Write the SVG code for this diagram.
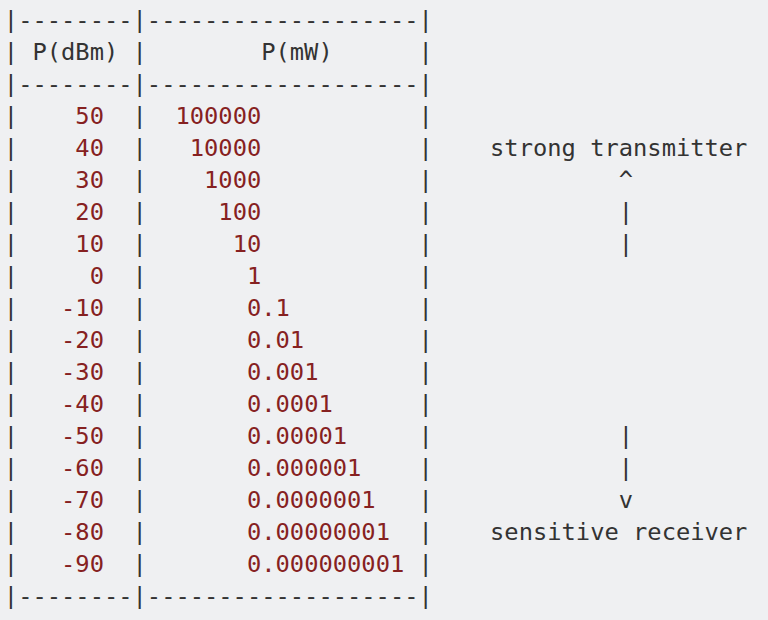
<svg xmlns="http://www.w3.org/2000/svg" width="768" height="620" viewBox="0 0 768 620" xml:space="preserve">
<style>
.t{font-family:"DejaVu Sans Mono","Liberation Mono",monospace;font-size:23.75px;fill:#333333;white-space:pre}
.n{fill:#862121}
</style>
<rect x="0" y="0" width="768" height="620" fill="#eff0f2"/>
<g id="table">
<text class="t" x="3.85" y="28">|--------|-------------------|</text>
<text class="t" x="3.85" y="60">| P(dBm) |        P(mW)      |</text>
<text class="t" x="3.85" y="92">|--------|-------------------|</text>
<text class="t" x="3.85" y="124">|    <tspan class="n">50</tspan>  |  <tspan class="n">100000</tspan>           |</text>
<text class="t" x="3.85" y="156">|    <tspan class="n">40</tspan>  |   <tspan class="n">10000</tspan>           |</text>
<text class="t" x="3.85" y="188">|    <tspan class="n">30</tspan>  |    <tspan class="n">1000</tspan>           |</text>
<text class="t" x="3.85" y="220">|    <tspan class="n">20</tspan>  |     <tspan class="n">100</tspan>           |</text>
<text class="t" x="3.85" y="252">|    <tspan class="n">10</tspan>  |      <tspan class="n">10</tspan>           |</text>
<text class="t" x="3.85" y="284">|     <tspan class="n">0</tspan>  |       <tspan class="n">1</tspan>           |</text>
<text class="t" x="3.85" y="316">|   <tspan class="n">-10</tspan>  |       <tspan class="n">0.1</tspan>         |</text>
<text class="t" x="3.85" y="348">|   <tspan class="n">-20</tspan>  |       <tspan class="n">0.01</tspan>        |</text>
<text class="t" x="3.85" y="380">|   <tspan class="n">-30</tspan>  |       <tspan class="n">0.001</tspan>       |</text>
<text class="t" x="3.85" y="412">|   <tspan class="n">-40</tspan>  |       <tspan class="n">0.0001</tspan>      |</text>
<text class="t" x="3.85" y="444">|   <tspan class="n">-50</tspan>  |       <tspan class="n">0.00001</tspan>     |</text>
<text class="t" x="3.85" y="476">|   <tspan class="n">-60</tspan>  |       <tspan class="n">0.000001</tspan>    |</text>
<text class="t" x="3.85" y="508">|   <tspan class="n">-70</tspan>  |       <tspan class="n">0.0000001</tspan>   |</text>
<text class="t" x="3.85" y="540">|   <tspan class="n">-80</tspan>  |       <tspan class="n">0.00000001</tspan>  |</text>
<text class="t" x="3.85" y="572">|   <tspan class="n">-90</tspan>  |       <tspan class="n">0.000000001</tspan> |</text>
<text class="t" x="3.85" y="604">|--------|-------------------|</text>
</g>
<g id="annotation">
<text class="t" x="490.05" y="156">strong transmitter</text>
<text class="t" x="618.75" y="188">^</text>
<text class="t" x="618.75" y="220">|</text>
<text class="t" x="618.75" y="252">|</text>
<text class="t" x="618.75" y="444">|</text>
<text class="t" x="618.75" y="476">|</text>
<text class="t" x="618.75" y="508">v</text>
<text class="t" x="490.05" y="540">sensitive receiver</text>
</g>
</svg>
